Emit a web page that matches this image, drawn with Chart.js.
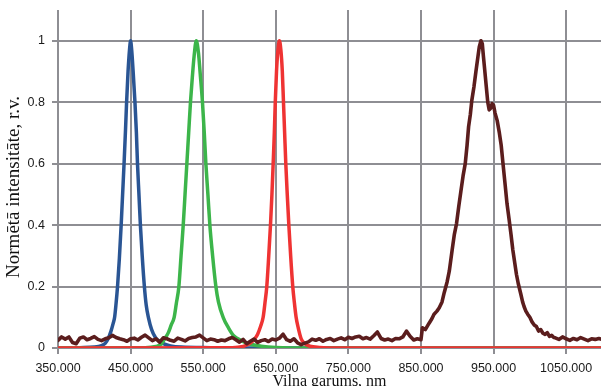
<!DOCTYPE html>
<html>
<head>
<meta charset="utf-8">
<script src="https://cdn.jsdelivr.net/npm/chart.js@4"></script>
<style>
  html, body { margin: 0; padding: 0; overflow: hidden; background: #ffffff; }
  canvas { display: block; }
</style>
</head>
<body>
<canvas id="c" width="601" height="396"></canvas>
<script>
// Normalised emission spectra of four LEDs (blue, green, red, IR).

const xTicks = [350, 450, 550, 650, 750, 850, 950, 1050];
const yTicks = [0, 0.2, 0.4, 0.6, 0.8, 1];
const yTickLabels = ['0', '0.2', '0.4', '0.6', '0.8', '1'];

const xTitle = 'Viļņa garums, nm';
const yTitle = 'Normētā intensitāte, r.v.';

// Blue LED
const blueNm = [350, 380, 400, 410, 415, 419, 423, 426, 428, 430, 432, 434.5, 437, 439, 441, 443, 444.5, 446.5, 448.5, 450,
  451.5, 453.5, 456, 458, 459.5, 461.5, 463.5, 466, 469, 471.5, 474.5, 479, 484, 488, 495, 505, 520, 560, 600, 1100];
const blueVal = [0, 0.001, 0.003, 0.008, 0.015, 0.03, 0.055, 0.08, 0.10, 0.145, 0.20, 0.29, 0.40, 0.50, 0.60, 0.71, 0.80, 0.90, 0.97, 1.0,
  0.97, 0.90, 0.80, 0.70, 0.60, 0.50, 0.40, 0.30, 0.20, 0.14, 0.10, 0.06, 0.035, 0.025, 0.014, 0.007, 0.003, 0.001, 0, 0];

// Green LED
const greenNm = [350, 470, 485, 492, 497, 502, 506, 510, 513, 516.5, 519.5, 522.5, 525, 527.5, 530, 532.5, 535, 537.5, 540.5,
  543.5, 546, 549, 551.5, 553.7, 556.5, 559.2, 563, 567.5, 571, 577.5, 585, 592, 598, 606, 615, 630, 650, 700, 1100];
const greenVal = [0, 0.001, 0.005, 0.012, 0.03, 0.05, 0.075, 0.10, 0.145, 0.20, 0.30, 0.40, 0.50, 0.60, 0.70, 0.80, 0.88, 0.95, 1.0,
  0.96, 0.89, 0.80, 0.70, 0.60, 0.50, 0.40, 0.30, 0.20, 0.15, 0.10, 0.065, 0.04, 0.03, 0.02, 0.012, 0.006, 0.002, 0, 0];

// Red LED
const redNm = [350, 590, 605, 612, 617, 621, 625, 629, 632.6, 635, 637.6, 640.3, 642.7, 644.7, 646.4, 648, 649.3, 651, 653, 655,
  657, 659, 660.6, 662.2, 663.8, 665.8, 668, 670.5, 673.4, 675.5, 678, 681, 685, 690, 697, 710, 740, 1100];
const redVal = [0, 0.001, 0.005, 0.012, 0.02, 0.03, 0.045, 0.07, 0.10, 0.145, 0.20, 0.30, 0.40, 0.50, 0.60, 0.70, 0.80, 0.90, 0.97, 1.0,
  0.97, 0.90, 0.80, 0.70, 0.60, 0.50, 0.40, 0.30, 0.20, 0.15, 0.10, 0.065, 0.03, 0.014, 0.006, 0.002, 0, 0];

// IR LED: noisy baseline sampled every 5 nm from 350 to 850 nm
const irBaseStartNm = 350;
const irBaseStepNm = 5;
const irBaseVal = [
  0.025, 0.036, 0.029, 0.036, 0.018, 0.014, 0.032, 0.036, 0.027, 0.031,
  0.037, 0.028, 0.024, 0.030, 0.033, 0.041, 0.034, 0.030, 0.027, 0.022,
  0.030, 0.032, 0.026, 0.035, 0.042, 0.033, 0.024, 0.030, 0.019, 0.033,
  0.030, 0.025, 0.022, 0.032, 0.028, 0.023, 0.031, 0.034, 0.036, 0.042,
  0.033, 0.024, 0.029, 0.027, 0.022, 0.026, 0.024, 0.030, 0.034, 0.027,
  0.019, 0.028, 0.014, 0.022, 0.029, 0.018, 0.024, 0.027, 0.021, 0.029,
  0.026, 0.032, 0.045, 0.027, 0.022, 0.030, 0.017, 0.011, 0.016, 0.020,
  0.029, 0.025, 0.030, 0.022, 0.028, 0.031, 0.024, 0.029, 0.033, 0.027,
  0.035, 0.031, 0.036, 0.038, 0.030, 0.034, 0.029, 0.040, 0.052, 0.031,
  0.026, 0.029, 0.024, 0.031, 0.030, 0.036, 0.055, 0.038, 0.026, 0.030,
  0.027
];
// IR LED: emission band
const irPeakNm = [852, 856, 861, 865, 868, 872, 875, 879, 882, 886, 889, 893, 896, 899, 902, 905, 908, 911, 913.5, 915.6,
  918, 920, 923, 925.7, 928, 930.3, 932.6, 934.5, 936, 938, 940, 942, 944, 946, 948, 950, 952, 955, 958, 960.5,
  963, 966, 968.5, 971.6, 974, 976.5, 979, 981.5, 984, 987.6, 990, 992, 994.5, 997, 1000, 1003, 1006, 1009, 1012, 1015,
  1018, 1021, 1024, 1027, 1030, 1033];
const irPeakVal = [0.066, 0.06, 0.08, 0.095, 0.11, 0.12, 0.13, 0.15, 0.18, 0.215, 0.25, 0.32, 0.37, 0.405, 0.46, 0.51, 0.56, 0.60, 0.66, 0.72,
  0.76, 0.805, 0.85, 0.90, 0.94, 0.98, 1.0, 0.99, 0.95, 0.90, 0.85, 0.80, 0.775, 0.78, 0.795, 0.79, 0.765, 0.74, 0.70, 0.66,
  0.60, 0.53, 0.47, 0.415, 0.37, 0.32, 0.28, 0.24, 0.21, 0.175, 0.15, 0.135, 0.12, 0.11, 0.10, 0.085, 0.075, 0.07, 0.055, 0.06,
  0.048, 0.044, 0.05, 0.038, 0.041, 0.034];
// IR LED: tail baseline
const irTailNm = [1035, 1040, 1045, 1050, 1055, 1060, 1065, 1070, 1075, 1080, 1085, 1090, 1095, 1100];
const irTailVal = [0.033, 0.028, 0.036, 0.030, 0.025, 0.031, 0.027, 0.034, 0.029, 0.024, 0.030, 0.028, 0.031, 0.027];

function pairs(xs, ys) {
  return xs.map((x, i) => ({ x: x, y: ys[i] }));
}

const irPoints = irBaseVal.map((v, i) => ({ x: irBaseStartNm + i * irBaseStepNm, y: v }))
  .concat(pairs(irPeakNm, irPeakVal))
  .concat(pairs(irTailNm, irTailVal));

const gridColor = '#8e8e93';
const tickFont = { family: '"Liberation Sans", Arial, sans-serif', size: 12.5 };

// Vertical axis title, drawn beside the value labels
const yTitlePlugin = {
  id: 'yTitle',
  afterDraw(chart) {
    const { ctx, chartArea } = chart;
    ctx.save();
    ctx.translate(chartArea.left - 43.5, (chartArea.top + chartArea.bottom) / 2 + 8);
    ctx.rotate(-Math.PI / 2);
    ctx.textAlign = 'center';
    ctx.textBaseline = 'middle';
    ctx.font = '19px "Liberation Serif", "Times New Roman", serif';
    ctx.fillStyle = '#111111';
    ctx.fillText(yTitle, 0, 0);
    ctx.restore();
  }
};

new Chart(document.getElementById('c'), {
  type: 'line',
  data: {
    datasets: [
      { label: 'IR', data: irPoints, borderColor: '#5b1d1d', borderWidth: 3.6, tension: 0 },
      { label: 'Red', data: pairs(redNm, redVal), borderColor: '#ef3333', borderWidth: 3.5, cubicInterpolationMode: 'monotone' },
      { label: 'Green', data: pairs(greenNm, greenVal), borderColor: '#3cb54a', borderWidth: 3.5, cubicInterpolationMode: 'monotone' },
      { label: 'Blue', data: pairs(blueNm, blueVal), borderColor: '#2a5594', borderWidth: 3.5, cubicInterpolationMode: 'monotone' }
    ]
  },
  options: {
    responsive: false,
    animation: false,
    layout: { padding: { top: 10, right: 0, left: 0, bottom: 0 } },
    plugins: { legend: { display: false }, tooltip: { enabled: false } },
    elements: {
      point: { radius: 0 },
      line: { fill: false, borderJoinStyle: 'round', borderCapStyle: 'round' }
    },
    scales: {
      x: {
        type: 'linear',
        min: 350,
        max: 1098,
        afterBuildTicks: s => { s.ticks = xTicks.map(v => ({ value: v })); },
        afterFit: s => { s.height = 48; s.paddingLeft = 0; s.paddingRight = 0; },
        border: { display: false },
        grid: { color: gridColor, lineWidth: 2, tickLength: 6, drawTicks: true },
        ticks: {
          font: tickFont,
          color: '#1a1a1a',
          padding: 7,
          maxRotation: 0,
          autoSkip: false,
          callback: v => Number(v).toFixed(3)
        },
        title: {
          display: true,
          text: xTitle,
          color: '#111111',
          font: { family: '"Liberation Serif", "Times New Roman", serif', size: 16 },
          padding: { top: 0, bottom: 5 }
        }
      },
      y: {
        min: 0,
        max: 1.1,
        afterBuildTicks: s => { s.ticks = yTicks.map(v => ({ value: v })); },
        afterFit: s => { s.width = 58; s.paddingTop = 0; s.paddingBottom = 0; },
        border: { display: false },
        grid: { color: gridColor, lineWidth: 2, tickLength: 6, drawTicks: true },
        ticks: {
          font: tickFont,
          color: '#1a1a1a',
          padding: 7,
          callback: (v, i) => yTickLabels[i]
        }
      }
    }
  },
  plugins: [yTitlePlugin]
});
</script>
</body>
</html>
